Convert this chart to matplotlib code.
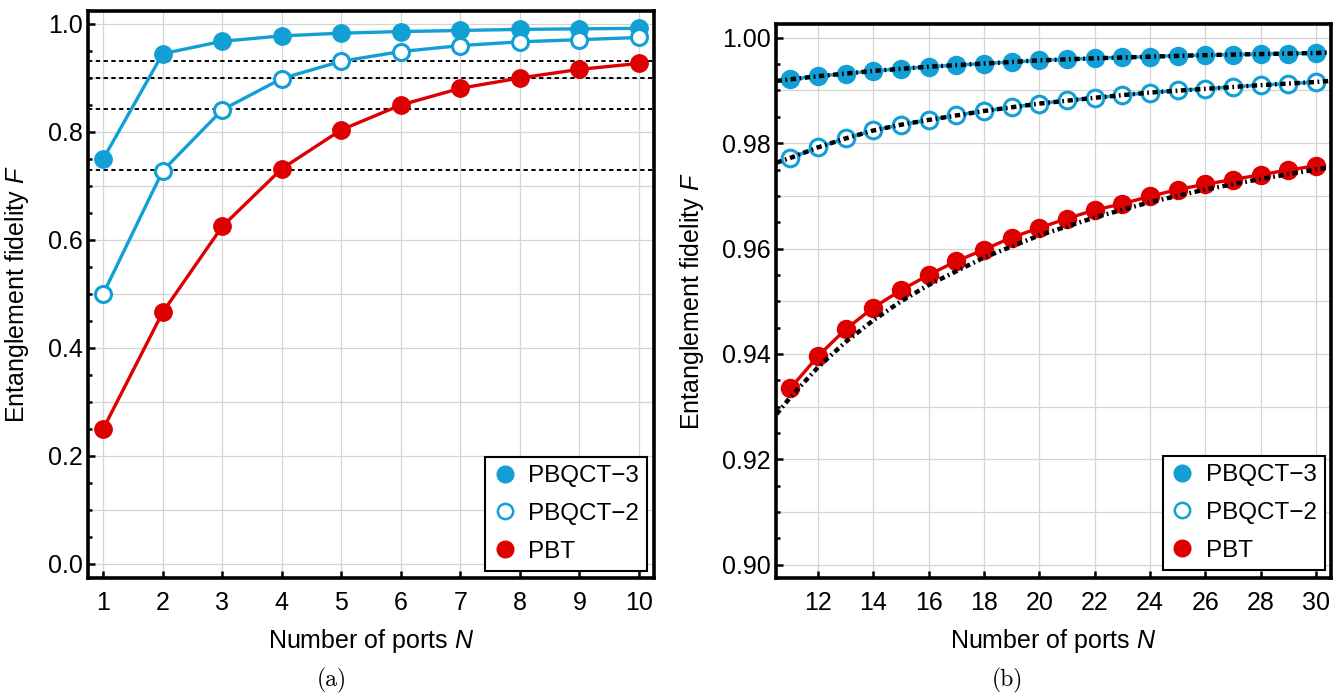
"""Entanglement fidelity of PBQCT-3, PBQCT-2 and PBT versus number of ports."""

import matplotlib
matplotlib.use("Agg")
import matplotlib.pyplot as plt
from matplotlib.lines import Line2D
from matplotlib.ticker import MultipleLocator

plt.rcParams["font.family"] = ["Liberation Sans", "DejaVu Sans"]
plt.rcParams["mathtext.fontset"] = "custom"
plt.rcParams["mathtext.rm"] = "Liberation Sans"
plt.rcParams["mathtext.it"] = "Liberation Sans:italic"

BLUE = "#129fd6"
RED = "#de0000"
GRID = "#d4d4d4"

# panel (a)
n_a = [1, 2, 3, 4, 5, 6, 7, 8, 9, 10]
pbqct3_a = [0.750, 0.945, 0.968, 0.978, 0.983, 0.986, 0.988, 0.990, 0.991, 0.992]
pbqct2_a = [0.500, 0.728, 0.841, 0.899, 0.931, 0.949, 0.960, 0.967, 0.971, 0.975]
pbt_a = [0.250, 0.466, 0.625, 0.732, 0.804, 0.850, 0.881, 0.900, 0.916, 0.927]
ref_levels = [0.931, 0.900, 0.842, 0.729]

# panel (b)
n_b = list(range(11, 31))
pbqct3_b = [0.9921, 0.9927, 0.9932, 0.9937, 0.9941, 0.9945, 0.9948, 0.9951, 0.9954, 0.9957,
            0.9959, 0.9961, 0.9963, 0.9964, 0.9966, 0.9967, 0.9968, 0.9969, 0.9970, 0.9971]
pbqct2_b = [0.9772, 0.9792, 0.9809, 0.9824, 0.9835, 0.9844, 0.9853, 0.9861, 0.9868, 0.9875,
            0.9881, 0.9886, 0.9891, 0.9896, 0.9900, 0.9903, 0.9907, 0.9910, 0.9913, 0.9916]
pbt_b = [0.9335, 0.9396, 0.9447, 0.9488, 0.9521, 0.9550, 0.9576, 0.9598, 0.9621, 0.9639,
         0.9657, 0.9673, 0.9685, 0.9699, 0.9712, 0.9722, 0.9731, 0.9740, 0.9749, 0.9757]

# asymptotic curves (black dash-dot)
n_asym = [10.5, 11, 12, 13, 14, 15, 16, 18, 20, 22, 24, 26, 28, 30, 30.5]
pbqct3_asym = [0.9918, 0.9921, 0.9927, 0.9932, 0.9937, 0.9941, 0.9945, 0.9951,
               0.9957, 0.9961, 0.9964, 0.9967, 0.9969, 0.9971, 0.9972]
pbqct2_asym = [0.9763, 0.9772, 0.9792, 0.9809, 0.9824, 0.9835, 0.9844, 0.9861,
               0.9875, 0.9886, 0.9896, 0.9903, 0.9910, 0.9916, 0.9918]
pbt_asym = [0.9286, 0.9318, 0.9375, 0.9423, 0.9464, 0.9500, 0.9531, 0.9583,
            0.9625, 0.9659, 0.9688, 0.9712, 0.9732, 0.9750, 0.9754]

labels = ["PBQCT\u22123", "PBQCT\u22122", "PBT"]

fig = plt.figure(figsize=(13.43, 6.94), dpi=100)
ax1 = fig.add_axes([0.0655, 0.1671, 0.4214, 0.8170])
ax2 = fig.add_axes([0.5778, 0.1671, 0.4133, 0.7983])


def style_axes(ax, grid_x, grid_y):
    for v in grid_x:
        ax.axvline(v, color=GRID, lw=0.9, zorder=0)
    for v in grid_y:
        ax.axhline(v, color=GRID, lw=0.9, zorder=0)
    for s in ax.spines.values():
        s.set_linewidth(2.6)
    ax.tick_params(which="both", direction="in", top=False, right=False,
                   labelsize=18, width=1.8)
    ax.tick_params(which="major", length=5)
    ax.tick_params(which="minor", length=3)
    ax.tick_params(axis="x", pad=9)
    ax.tick_params(axis="y", pad=4)
    ax.set_xlabel("Number of ports $N$", fontsize=18)
    ax.set_ylabel("Entanglement fidelity $F$", fontsize=18)


def add_legend(ax, anchor):
    handles = [
        Line2D([], [], ls="none", marker="o", ms=12, mfc=BLUE, mec=BLUE),
        Line2D([], [], ls="none", marker="o", ms=11, mfc="white", mec=BLUE, mew=1.8),
        Line2D([], [], ls="none", marker="o", ms=12, mfc=RED, mec=RED),
    ]
    leg = ax.legend(handles, labels, loc="lower right", bbox_to_anchor=anchor,
                    borderaxespad=0, fontsize=17.5, fancybox=False, framealpha=1,
                    edgecolor="black", handlelength=0.9, handletextpad=0.5,
                    labelspacing=0.65, borderpad=0.35)
    leg.get_frame().set_linewidth(1.5)


# (a)
style_axes(ax1, n_a, [i / 10 for i in range(11)])
for lvl in ref_levels:
    ax1.axhline(lvl, color="black", lw=1.4, ls=(0, (2.2, 1.8)), zorder=1)
ax1.plot(n_a, pbqct3_a, color=BLUE, lw=2.4, marker="o", ms=12.5, zorder=3)
ax1.plot(n_a, pbqct2_a, color=BLUE, lw=2.4, marker="o", ms=11.5, mfc="white",
         mec=BLUE, mew=2.2, zorder=3)
ax1.plot(n_a, pbt_a, color=RED, lw=2.4, marker="o", ms=12.5, zorder=3)
ax1.set_xlim(0.745, 10.25)
ax1.set_ylim(-0.026, 1.024)
ax1.set_xticks(n_a)
ax1.set_yticks([0.0, 0.2, 0.4, 0.6, 0.8, 1.0])
ax1.yaxis.set_minor_locator(MultipleLocator(0.05))
ax1.yaxis.set_major_formatter(plt.FuncFormatter(lambda v, p: f"{v:.1f}"))
ax1.yaxis.set_label_coords(-0.1, 0.5)
ax1.xaxis.set_label_coords(0.5, -0.086)
add_legend(ax1, (0.988, 0.012))

# (b)
style_axes(ax2, range(12, 31, 2), [0.90 + i / 100 for i in range(11)])
ax2.plot(n_b, pbqct3_b, color=BLUE, lw=2.4, marker="o", ms=13, zorder=3)
ax2.plot(n_b, pbqct2_b, color=BLUE, lw=2.4, marker="o", ms=12, mfc="white",
         mec=BLUE, mew=2.2, zorder=3)
ax2.plot(n_b, pbt_b, color=RED, lw=2.4, marker="o", ms=13, zorder=3)
dashdot = (0, (1.2, 0.8, 0.4, 0.8))
for ys in (pbqct3_asym, pbqct2_asym, pbt_asym):
    ax2.plot(n_asym, ys, color="black", lw=3.2, ls=dashdot, zorder=4)
ax2.set_xlim(10.48, 30.55)
ax2.set_ylim(0.8975, 1.0026)
ax2.set_xticks(range(12, 31, 2))
ax2.set_yticks([0.90, 0.92, 0.94, 0.96, 0.98, 1.00])
ax2.yaxis.set_minor_locator(MultipleLocator(0.005))
ax2.yaxis.set_major_formatter(plt.FuncFormatter(lambda v, p: f"{v:.2f}"))
ax2.yaxis.set_label_coords(-0.126, 0.5)
ax2.xaxis.set_label_coords(0.5, -0.088)
add_legend(ax2, (0.989, 0.014))

fig.text(0.247, 0.019, "(a)", fontsize=17, family="cmr10", ha="center", va="center")
fig.text(0.750, 0.019, "(b)", fontsize=17, family="cmr10", ha="center", va="center")

fig.savefig("out.png", dpi=100)
